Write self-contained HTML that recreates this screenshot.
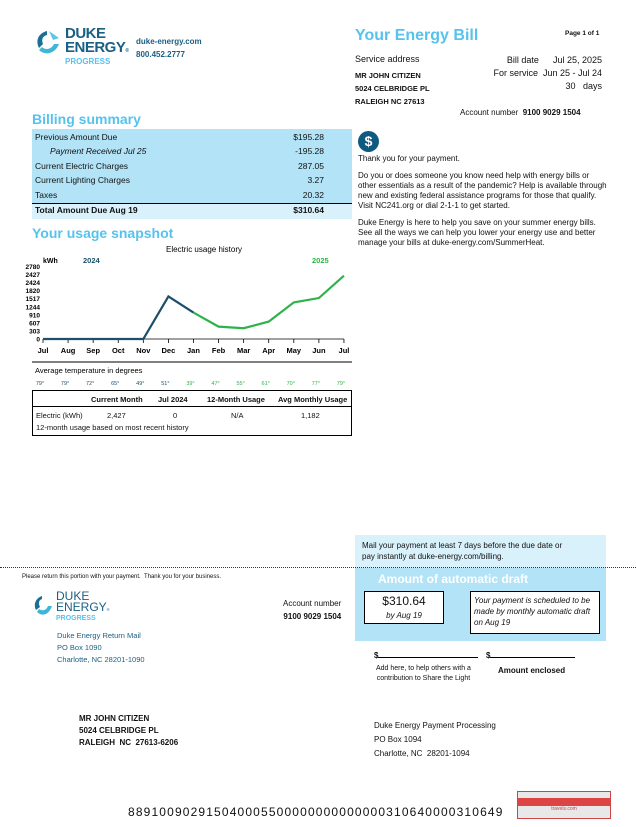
<!DOCTYPE html>
<html><head><meta charset="utf-8"><style>
body{margin:0;width:636px;height:827px;position:relative;background:#fff;font-family:"Liberation Sans",sans-serif;color:#111;overflow:hidden}
.a{position:absolute;white-space:nowrap}
.b{font-weight:bold}
.lb{color:#56c2ee}
.s7{font-size:7.5px}.s8{font-size:8px}.s9{font-size:9px}
</style></head><body>
<div class="a" style="left:33px;top:26px;width:95px;height:46px">
<svg width="30" height="30" style="position:absolute;left:0;top:2px"><path d="M14 3 C6 5 2 12 6 20 L10 16 C8 11 10 8 14 7Z" fill="#1a6f96"/><path d="M16 3 L26 10 L20 12 Z" fill="#5cc6e6"/><path d="M6 22 C12 28 22 26 26 16 L21 16 C18 22 12 22 9 19Z" fill="#3fb6d8"/></svg>
<div class="a b" style="left:32px;top:1px;font-size:15px;line-height:14px;color:#1a5f84;letter-spacing:-0.5px">DUKE<br>ENERGY<span style="font-size:5px">®</span></div>
<div class="a b" style="left:32px;top:31px;font-size:8px;color:#56c2ee">PROGRESS</div>
</div>
<div class="a b s8" style="left:136px;top:37px;color:#1a5f84">duke-energy.com</div>
<div class="a b s8" style="left:136px;top:50px;color:#1a5f84">800.452.2777</div>

<div class="a b lb" style="left:355px;top:27px;font-size:16px">Your Energy Bill</div>
<div class="a b" style="left:565px;top:30px;font-size:6.5px">Page 1 of 1</div>
<div class="a s9" style="left:355px;top:54px">Service address</div>
<div class="a b s7" style="left:355px;top:69px;line-height:13px">MR JOHN CITIZEN<br>5024 CELBRIDGE PL<br>RALEIGH NC 27613</div>
<div class="a s9" style="left:470px;top:54px;line-height:13px;text-align:right;width:132px"><span style="margin-right:14px">Bill date</span>Jul 25, 2025<br>For service&nbsp; Jun 25 - Jul 24<br>30&nbsp;&nbsp; days</div>
<div class="a s8" style="left:460px;top:108px">Account number&nbsp; <b>9100 9029 1504</b></div>

<div class="a b lb" style="left:32px;top:111px;font-size:14px">Billing summary</div>
<div class="a" style="left:32px;top:129px;width:320px;height:89px;background:#b3e3f7;font-size:8.5px">
<div class="a" style="left:3px;top:3px">Previous Amount Due</div><div class="a" style="right:28px;top:3px">$195.28</div>
<div class="a" style="left:18px;top:17px;font-style:italic">Payment Received Jul 25</div><div class="a" style="right:28px;top:17px">-195.28</div>
<div class="a" style="left:3px;top:32px">Current Electric Charges</div><div class="a" style="right:28px;top:32px">287.05</div>
<div class="a" style="left:3px;top:46px">Current Lighting Charges</div><div class="a" style="right:28px;top:46px">3.27</div>
<div class="a" style="left:3px;top:61px">Taxes</div><div class="a" style="right:28px;top:61px">20.32</div>
<div class="a" style="left:0;top:74px;width:320px;height:15px;background:#d9f1fb;border-top:1px solid #000"></div>
<div class="a b" style="left:3px;top:76px">Total Amount Due Aug 19</div><div class="a b" style="right:28px;top:76px">$310.64</div>
</div>

<div class="a" style="left:358px;top:131px;width:21px;height:21px;border-radius:50%;background:#0e5a80;color:#fff;font-weight:bold;font-size:14px;text-align:center;line-height:21px">$</div>
<div class="a s8" style="left:358px;top:154px;line-height:10px;white-space:normal;width:250px">Thank you for your payment.<div style="height:7px"></div>Do you or does someone you know need help with energy bills or other essentials as a result of the pandemic? Help is available through new and existing federal assistance programs for those that qualify.&nbsp; Visit NC241.org or dial 2-1-1 to get started.<div style="height:7px"></div>Duke Energy is here to help you save on your summer energy bills. See all the ways we can help you lower your energy use and better manage your bills at duke-energy.com/SummerHeat.</div>

<div class="a b lb" style="left:32px;top:225px;font-size:14px">Your usage snapshot</div>
<svg class="a" id="chart" style="left:0;top:240px" width="360" height="200"></svg>

<div class="a" style="left:32px;top:390px;width:318px;height:44px;border:1px solid #000;font-size:7.5px">
<div class="a b" style="left:58px;top:4px">Current Month</div><div class="a b" style="left:125px;top:4px">Jul 2024</div><div class="a b" style="left:174px;top:4px">12-Month Usage</div><div class="a b" style="left:245px;top:4px">Avg Monthly Usage</div>
<div class="a" style="left:0;top:15px;width:318px;border-top:1px solid #000"></div>
<div class="a" style="left:3px;top:20px">Electric (kWh)</div><div class="a" style="left:74px;top:20px">2,427</div><div class="a" style="left:140px;top:20px">0</div><div class="a" style="left:198px;top:20px">N/A</div><div class="a" style="left:268px;top:20px">1,182</div>
<div class="a" style="left:3px;top:32px">12-month usage based on most recent history</div>
</div>

<div class="a" style="left:355px;top:535px;width:251px;height:36px;background:#d9f1fb"></div>
<div class="a s8" style="left:362px;top:540px;line-height:11px">Mail your payment at least 7 days before the due date or<br>pay instantly at duke-energy.com/billing.</div>
<div class="a" style="left:0;top:567px;width:636px;border-top:1px dotted #333"></div>
<div class="a" style="left:355px;top:568px;width:251px;height:73px;background:#b3e3f7"></div>
<div class="a b" style="left:378px;top:572px;font-size:12px;color:#fff">Amount of automatic draft</div>
<div class="a" style="left:364px;top:591px;width:80px;height:33px;border:1px solid #000;background:#fff;text-align:center;font-size:12px;line-height:13px;padding-top:3px;box-sizing:border-box">$310.64<br><i style="font-size:8px">by Aug 19</i></div>
<div class="a" style="left:470px;top:591px;width:130px;height:43px;border:1px solid #000;background:#fff;font-size:8px;font-style:italic;line-height:11px;padding:3px;box-sizing:border-box;white-space:normal">Your payment is scheduled to be made by monthly automatic draft on Aug 19</div>
<div class="a" style="left:22px;top:574px;font-size:6px">Please return this portion with your payment.&nbsp; Thank you for your business.</div>
<div class="a" style="left:32px;top:591px;width:80px;height:40px">
<svg width="22" height="24" style="position:absolute;left:0;top:3px"><path d="M10 2 C4 4 1 10 4 16 L8 13 C6 9 7 6 10 5Z" fill="#1a6f96"/><path d="M5 18 C10 23 17 21 20 12 L16 12 C14 17 10 17 7 15Z" fill="#3fb6d8"/></svg>
<div class="a" style="left:24px;top:0;font-size:12px;line-height:11px;color:#1a5f84">DUKE<br>ENERGY<span style="font-size:4px">®</span></div>
<div class="a b" style="left:24px;top:24px;font-size:7px;color:#56c2ee">PROGRESS</div></div>
<div class="a s7" style="left:57px;top:630px;line-height:12px;color:#1a5f84">Duke Energy Return Mail<br>PO Box 1090<br>Charlotte, NC 28201-1090</div>
<div class="a s8" style="left:283px;top:597px;text-align:right;line-height:13px">Account number<br><b>9100 9029 1504</b></div>
<div class="a b s8" style="left:374px;top:651px">$<span style="display:inline-block;width:100px;border-bottom:1px solid #000"></span></div>
<div class="a b s8" style="left:486px;top:651px">$<span style="display:inline-block;width:85px;border-bottom:1px solid #000"></span></div>
<div class="a" style="left:376px;top:664px;font-size:7px;text-align:center;line-height:10px">Add here, to help others with a<br>contribution to Share the Light</div>
<div class="a b" style="left:498px;top:666px;font-size:8px">Amount enclosed</div>
<div class="a b s8" style="left:79px;top:713px;line-height:12px">MR JOHN CITIZEN<br>5024 CELBRIDGE PL<br>RALEIGH&nbsp; NC&nbsp; 27613-6206</div>
<div class="a s8" style="left:374px;top:719px;line-height:14px">Duke Energy Payment Processing<br>PO Box 1094<br>Charlotte, NC&nbsp; 28201-1094</div>
<div class="a" style="left:128px;top:805px;font-size:12px;letter-spacing:1.15px">889100902915040005500000000000000310640000310649</div>
<div class="a" style="left:517px;top:791px;width:92px;height:26px;background:#e8e8e8;border:1px solid #c44"><div style="height:8px;background:#d44;margin-top:6px"></div><div style="font-size:5px;color:#c44;text-align:center">travels.com</div></div>

<script>
const months=["Jul","Aug","Sep","Oct","Nov","Dec","Jan","Feb","Mar","Apr","May","Jun","Jul"];
const usage2024=[0,0,0,0,0,1633,1015];
const usage2025=[1015,475,413,668,1402,1571,2427];
const yTicks=["0","303","607","910","1244","1517","1820","2424","2427","2780"];
const temps=["79","79","72","65","49","51","39","47","55","61","70","77","79"];
const yMax=2780;
const svg=document.getElementById('chart');
const NS='http://www.w3.org/2000/svg';
const X=i=>43+i*25.08;
const Y=v=>99-v/yMax*72.5;
function el(t,a,txt){const e=document.createElementNS(NS,t);for(const k in a)e.setAttribute(k,a[k]);if(txt!==undefined)e.textContent=txt;svg.appendChild(e);return e;}
let e=el('text',{x:204,y:12,'font-size':8,'text-anchor':'middle'},'Electric usage history');

e=el('text',{x:43,y:23,'font-size':7,'font-weight':'bold'},'kWh');
e=el('text',{x:83,y:23,'font-size':7.5,'font-weight':'bold','fill':'#1b4f6b'},'2024');
e=el('text',{x:312,y:23,'font-size':7.5,'font-weight':'bold','fill':'#2db34a'},'2025');
yTicks.forEach((t,i)=>{const tt=el('text',{x:40,y:99-i*72.5/9+2.5,'font-size':6.5,'font-weight':'bold','text-anchor':'end'},t);
});
e=el('line',{x1:X(0),x2:X(12),y1:99,y2:99,stroke:'#000','stroke-width':0.8});
months.forEach((m,i)=>{const tk=el('line',{x1:X(i),x2:X(i),y1:99,y2:103,stroke:'#000','stroke-width':0.8});

const lb=el('text',{x:X(i),y:113,'font-size':7.5,'font-weight':'bold','text-anchor':'middle'},m);
});
let p=el('polyline',{points:usage2024.map((v,i)=>X(i)+','+Y(v)).join(' '),fill:'none',stroke:'#1b4f6b','stroke-width':2.2});

p=el('polyline',{points:usage2025.map((v,i)=>X(i+6)+','+Y(v)).join(' '),fill:'none',stroke:'#2db34a','stroke-width':2.2});

e=el('line',{x1:32,x2:352,y1:122,y2:122,stroke:'#000','stroke-width':1});
e=el('text',{x:35,y:133,'font-size':7.5},'Average temperature in degrees');
temps.forEach((t,i)=>{const tt=el('text',{x:X(i)-3,y:145,'font-size':5.5,'fill':i<6?'#1b4f6b':'#2db34a','text-anchor':'middle'},t+'°');
});
</script>
</body></html>
